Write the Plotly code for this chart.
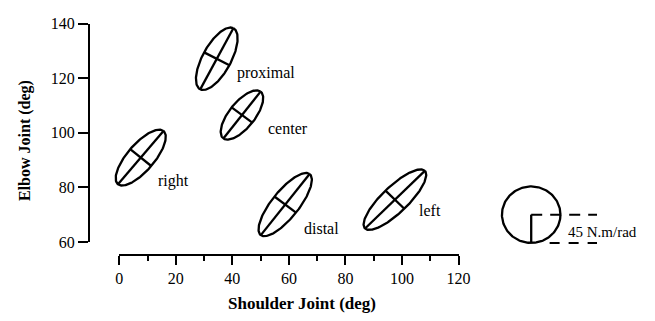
import numpy as np
import plotly.graph_objects as go

# ---- data -------------------------------------------------------------
labels = ["proximal", "center", "right", "distal", "left"]
shoulder_deg = [34.5, 43.4, 7.6, 58.7, 97.5]      # ellipse centres (x)
elbow_deg = [127.1, 106.5, 90.9, 73.7, 75.5]      # ellipse centres (y)
k_major = [55.0, 47.0, 55.0, 61.5, 65.0]          # N.m/rad, semi-major
k_minor = [22.0, 20.0, 21.0, 21.0, 20.5]          # N.m/rad, semi-minor
orient_deg = [62.4, 52.5, 50.5, 52.4, 45.0]       # major-axis orientation

x_ticks = [0, 20, 40, 60, 80, 100, 120]
x_minor_ticks = [10, 30, 50, 70, 90, 110]
y_ticks = [60, 80, 100, 120, 140]

scale_k = 45.0                                    # N.m/rad reference circle
scale_label = "45 N.m/rad"
scale_center = (145.7, 70.0)

# ---- layout constants (target pixels in the 655x321 page) --------------
PAGE_W, PAGE_H = 655, 321
OFF = 8                      # default page margin around the figure
W, H = PAGE_W - 2 * OFF, PAGE_H - 2 * OFF


def px(xp):
    return (xp - OFF) / W


def py(yp):
    return 1 - (yp - OFF) / H


X_PX = (118, 466)            # pixel of x=0 and x=120
Y_PX = (247.3, 16.0)         # pixel of y=60 and y=140
XAX_PX = 260.7               # x-axis line
YAX_PX = 87.0                # y-axis line
DEG_PER_K = (30.0 / 2.9) / scale_k   # drawing scale of stiffness

xr = (x_ticks[0], x_ticks[-1])
yr = (y_ticks[0], y_ticks[-1])
xdom = [px(X_PX[0]), px(X_PX[1])]
ydom = [py(Y_PX[0]), py(Y_PX[1])]

# overlay axes spanning the whole figure with identical scaling
xs = (xr[1] - xr[0]) / (xdom[1] - xdom[0])
x2r = [xr[0] - xdom[0] * xs, xr[1] + (1 - xdom[1]) * xs]
ys = (yr[1] - yr[0]) / (ydom[1] - ydom[0])
y2r = [yr[0] - ydom[0] * ys, yr[1] + (1 - ydom[1]) * ys]

LINE = dict(color="black", width=2.3)
FONT = "Liberation Serif"

fig = go.Figure()
# empty trace so the visible axes pair is instantiated
fig.add_trace(go.Scatter(x=[], y=[], xaxis="x", yaxis="y", mode="lines",
                         hoverinfo="skip", showlegend=False))

t = np.linspace(0, 2 * np.pi, 181)
for cx, cy, a_k, b_k, ang in zip(shoulder_deg, elbow_deg, k_major, k_minor, orient_deg):
    a = a_k * DEG_PER_K
    b = b_k * DEG_PER_K
    th = np.deg2rad(ang)
    ex = cx + a * np.cos(th) * np.cos(t) - b * np.sin(th) * np.sin(t)
    ey = cy + a * np.sin(th) * np.cos(t) + b * np.cos(th) * np.sin(t)
    xs_ = list(ex) + [None, cx - a * np.cos(th), cx + a * np.cos(th), None,
                      cx + b * np.sin(th), cx - b * np.sin(th)]
    ys_ = list(ey) + [None, cy - a * np.sin(th), cy + a * np.sin(th), None,
                      cy - b * np.cos(th), cy + b * np.cos(th)]
    fig.add_trace(go.Scatter(x=xs_, y=ys_, mode="lines", line=LINE,
                             xaxis="x2", yaxis="y2", hoverinfo="skip",
                             showlegend=False))

# reference circle
r = scale_k * DEG_PER_K
scx, scy = scale_center
fig.add_trace(go.Scatter(x=scx + r * np.cos(t), y=scy + r * np.sin(t),
                         mode="lines", line=LINE, xaxis="x2", yaxis="y2",
                         hoverinfo="skip", showlegend=False))
fig.add_trace(go.Scatter(x=[scx, scx], y=[scy, scy - r], mode="lines",
                         line=LINE, xaxis="x2", yaxis="y2",
                         hoverinfo="skip", showlegend=False))
fig.add_trace(go.Scatter(x=[scx, scx + 2.25 * r], y=[scy, scy], mode="lines",
                         line=dict(color="black", width=2, dash="11px,8px"),
                         xaxis="x2", yaxis="y2", hoverinfo="skip",
                         showlegend=False))
fig.add_trace(go.Scatter(x=[scx + 0.63 * r, scx + 2.25 * r], y=[scy - r, scy - r],
                         mode="lines",
                         line=dict(color="black", width=2, dash="10px,9px"),
                         xaxis="x2", yaxis="y2", hoverinfo="skip",
                         showlegend=False))

# labels next to ellipses (pixel offsets from centres)
label_dx = [18.7, 24.3, 15.0, 16.7, 22.5]
label_dy = [-14.0, -13.4, -23.0, -24.0, -10.8]
annotations = []
for name, cx, cy, dx, dy in zip(labels, shoulder_deg, elbow_deg, label_dx, label_dy):
    annotations.append(dict(x=cx, y=cy, xref="x2", yref="y2", text=name,
                            showarrow=False, xanchor="left", yanchor="middle",
                            xshift=dx, yshift=dy,
                            font=dict(family=FONT, size=16, color="black")))
annotations.append(dict(x=scx + r, y=scy - r * 0.63, xref="x2", yref="y2",
                        text=scale_label, showarrow=False, xanchor="left",
                        yanchor="middle", xshift=6, yshift=0,
                        font=dict(family=FONT, size=15, color="black")))
annotations.append(dict(x=px(305), y=py(312), xref="paper", yref="paper",
                        text="<b>Shoulder Joint (deg)</b>", showarrow=False,
                        xanchor="center", yanchor="middle",
                        font=dict(family=FONT, size=17, color="black")))
annotations.append(dict(x=px(20.7), y=py(140), xref="paper", yref="paper",
                        text="<b>Elbow Joint (deg)</b>", showarrow=False,
                        textangle=-90, xanchor="center", yanchor="middle",
                        font=dict(family=FONT, size=16, color="black")))

tickfont = dict(family=FONT, size=16, color="black")
fig.update_layout(
    width=W, height=H, margin=dict(l=0, r=0, t=0, b=0),
    paper_bgcolor="white", plot_bgcolor="rgba(0,0,0,0)",
    showlegend=False,
    xaxis=dict(domain=xdom, range=list(xr), anchor="free",
               position=py(XAX_PX), showline=True, linecolor="black",
               linewidth=2, ticks="outside", ticklen=9, tickwidth=2,
               tickcolor="black", tickvals=x_ticks,
               ticktext=[str(v) for v in x_ticks], tickfont=tickfont,
               ticklabeloverflow="allow",
               minor=dict(tickvals=x_minor_ticks, ticks="outside", ticklen=5,
                          tickwidth=2, tickcolor="black", showgrid=False),
               showgrid=False, zeroline=False, fixedrange=True),
    yaxis=dict(domain=ydom, range=list(yr), anchor="free",
               position=px(YAX_PX), showline=True, linecolor="black",
               linewidth=2, ticks="outside", ticklen=10, tickwidth=2,
               tickcolor="black", tickvals=y_ticks,
               ticktext=[str(v) for v in y_ticks], tickfont=tickfont,
               ticklabeloverflow="allow",
               showgrid=False, zeroline=False, fixedrange=True),
    xaxis2=dict(domain=[0, 1], range=x2r, anchor="y2", visible=False,
                showgrid=False, zeroline=False, fixedrange=True),
    yaxis2=dict(domain=[0, 1], range=y2r, anchor="x2", visible=False,
                showgrid=False, zeroline=False, fixedrange=True),
    annotations=annotations,
)

fig.write_html("out.html", config={"displayModeBar": False})
